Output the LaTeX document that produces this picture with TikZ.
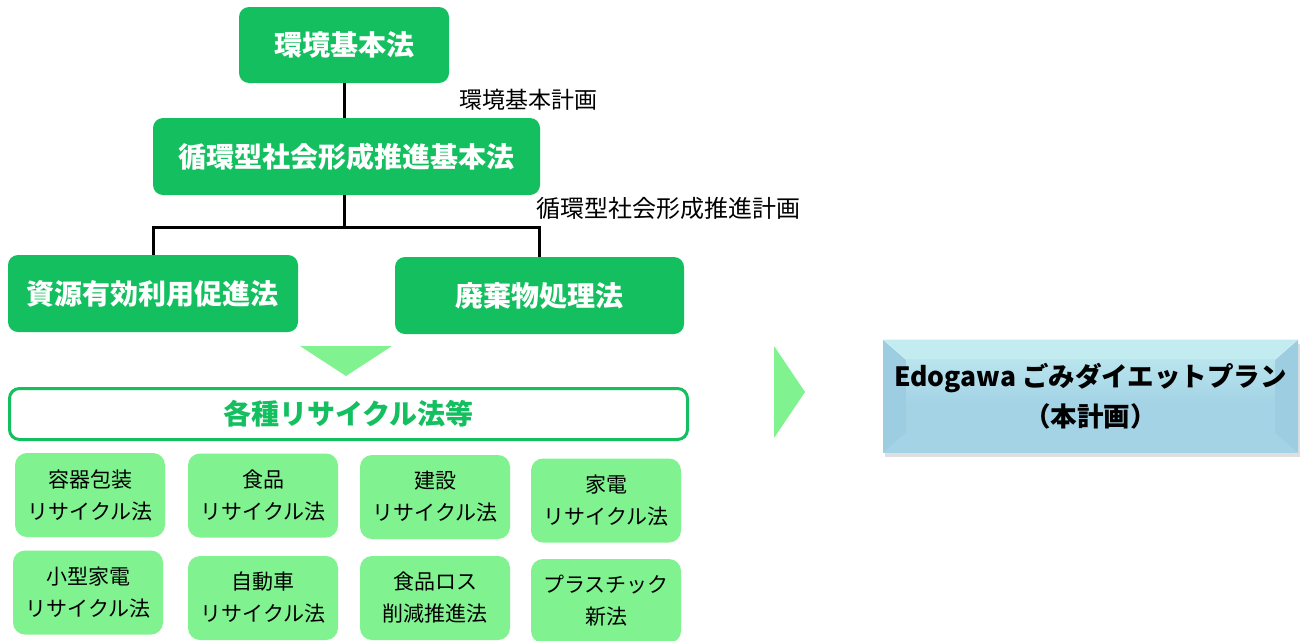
\documentclass[tikz,border=0pt]{standalone}
\usepackage{fontspec}
\setmainfont{Noto Sans CJK JP}
\usetikzlibrary{calc}
\usetikzlibrary{shadows}

\definecolor{lawgreen}{HTML}{13BF5F}
\definecolor{palegreen}{HTML}{80F290}
\definecolor{planblue}{HTML}{A3D3E5}
\definecolor{planlight}{HTML}{C3ECF1}
\definecolor{planside}{HTML}{9CCDE0}

\tikzset{
 law/.style={fill=lawgreen, rounded corners=10pt, text=white, inner sep=0pt,
   font=\bfseries\fontsize{28}{32}\selectfont},
 link/.style={black, line width=3pt},
 plan label/.style={black, font=\fontsize{#1}{#1}\selectfont, inner sep=0pt},
 lawlist/.style={draw=lawgreen, line width=3pt, fill=white, rounded corners=10pt,
   text=lawgreen, font=\bfseries\fontsize{28}{32}\selectfont,
   minimum width=678pt, minimum height=51pt},
 recycle/.style={fill=palegreen, rounded corners=12pt, align=center, inner sep=0pt,
   minimum width=150pt, minimum height=84pt, font=\fontsize{21}{32}\selectfont},
 plan/.style={fill=planblue, align=center, inner sep=0pt,
   minimum width=415pt, minimum height=113pt,
   font=\bfseries\fontsize{26.5}{40}\selectfont,
   drop shadow={shadow xshift=2pt, shadow yshift=-4pt, opacity=0.25}},
}

\begin{document}
\begin{tikzpicture}[x=1pt, y=-1pt]
\useasboundingbox (0,0) rectangle (1304,640);

% laws
\node[law, minimum width=210pt, minimum height=76pt] (basic) at (344,45) {環境基本法};
\node[law, minimum width=387pt, minimum height=77pt] (cycle) at (346.5,156.5) {循環型社会形成推進基本法};
\node[law, minimum width=290pt, minimum height=77pt] (resource) at (153,293.5) {資源有効利用促進法};
\node[law, minimum width=289pt, minimum height=77pt] (waste) at (539.5,295.5) {廃棄物処理法};

\node[plan label=23] (basicplan) at (528,100) {環境基本計画};
\node[plan label=24] (cycleplan) at (668,208) {循環型社会形成推進計画};

\draw[link] (basic.south) -- (basic.south |- cycle.north);
\coordinate (split) at (344,227);
\draw[link] (basic.south |- cycle.south) -- (split);
\draw[link] (resource.north) |- (split) -| (waste.north);

% arrows
\fill[palegreen] (300,346) -- (392,346) -- (346,376) -- cycle;
\fill[palegreen] (774,346) -- (805,392) -- (774,438) -- cycle;

\node[lawlist] (lawlist) at (348.5,414) {各種リサイクル法等};

\foreach \x/\y/\name/\txt in {
  90/495/pack/{容器包装\\リサイクル法},
  263/495.5/food/{食品\\リサイクル法},
  435/497/build/{建設\\リサイクル法},
  606/500.5/appl/{家電\\リサイクル法},
  88/592.5/small/{小型家電\\リサイクル法},
  263/598/car/{自動車\\リサイクル法},
  435/598/loss/{食品ロス\\削減推進法},
  606/601/plastic/{プラスチック\\新法}} {
 \node[recycle] (\name) at (\x,\y) {\txt};
};

% plan
\node[plan, path picture={
  \coordinate (nw) at (path picture bounding box.north west);
  \coordinate (ne) at (path picture bounding box.north east);
  \coordinate (sw) at (path picture bounding box.south west);
  \coordinate (se) at (path picture bounding box.south east);
  \fill[planside] (nw) -- ($(nw)+(23,20)$) -- ($(sw)+(23,-20)$) -- (sw) -- cycle;
  \fill[planside] (ne) -- ($(ne)+(-23,20)$) -- ($(se)+(-23,-20)$) -- (se) -- cycle;
  \fill[planlight] (nw) -- (ne) -- ($(ne)+(-23,20)$) -- ($(nw)+(23,20)$) -- cycle;
  \shade[top color=planlight!70!planblue, bottom color=planblue]
    ($(nw)+(23,20)$) rectangle ($(se)+(-23,-50)$);
  \draw[white, opacity=0.5] (nw) -- ($(nw)+(23,20)$) (ne) -- ($(ne)+(-23,20)$);
 }] (dietplan) at (1090.5,396) {Edogawa ごみダイエットプラン\\（本計画）};

\end{tikzpicture}
\end{document}
